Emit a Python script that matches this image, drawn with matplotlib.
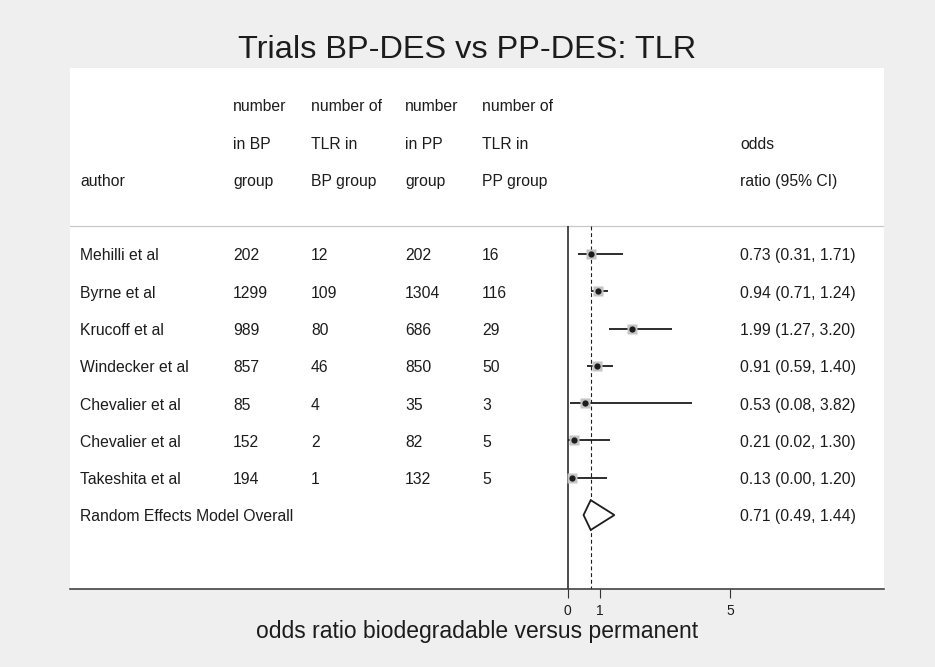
import numpy as np
import matplotlib.pyplot as plt
import matplotlib.transforms as mtransforms

plt.rcParams['font.family'] = ['Liberation Sans', 'DejaVu Sans']

# Study data
authors = ["Mehilli et al", "Byrne et al", "Krucoff et al", "Windecker et al",
           "Chevalier et al", "Chevalier et al", "Takeshita et al"]
n_bp = [202, 1299, 989, 857, 85, 152, 194]
tlr_bp = [12, 109, 80, 46, 4, 2, 1]
n_pp = [202, 1304, 686, 850, 35, 82, 132]
tlr_pp = [16, 116, 29, 50, 3, 5, 5]
or_est = [0.73, 0.94, 1.99, 0.91, 0.53, 0.21, 0.13]
ci_lo = [0.31, 0.71, 1.27, 0.59, 0.08, 0.02, 0.00]
ci_hi = [1.71, 1.24, 3.20, 1.40, 3.82, 1.30, 1.20]

# Pooled estimate
pooled_label = "Random Effects Model Overall"
pooled_or = 0.71
pooled_lo = 0.49
pooled_hi = 1.44

xticks = [0, 1, 5]

bg = '#efefef'
ink = '#1c1c1c'
fs = 11.3

fig = plt.figure(figsize=(9.35, 6.67), dpi=100, facecolor=bg)
ax = fig.add_axes([70 / 935, (667 - 588.5) / 667, 814 / 935, 520.5 / 667])
ax.set_facecolor('white')

ax.set_xlim(-15.33, 9.745)
ax.set_ylim(8.97, -4.99)

rows = np.arange(len(authors))
n_rows = len(authors)

# reference lines
sep = -0.74
ax.axhline(sep, color='#c8c8c8', lw=0.9)
ax.vlines(0, sep, 8.97, color=ink, lw=1.1)
ax.vlines(pooled_or, sep, 8.97, color=ink, lw=0.8, linestyles=(0, (3.5, 2.5)))

# CIs and point estimates
ax.hlines(rows, ci_lo, ci_hi, color=ink, lw=1.3, zorder=3)
ax.plot(or_est, rows, 's', ms=7, color='#c4c4c4', mec='none', zorder=4)
ax.plot(or_est, rows, 'o', ms=4.5, color=ink, mec='none', zorder=5)

# pooled diamond
h = 0.4
yp = n_rows
ax.fill([pooled_lo, pooled_or, pooled_hi, pooled_or, pooled_lo],
        [yp, yp - h, yp, yp + h, yp], facecolor='white', edgecolor=ink, lw=1.3, zorder=4)

# table text
tr = mtransforms.blended_transform_factory(ax.transAxes, ax.transData)
off = 0.17
col_author = 10 / 814
col_nbp = 163 / 814
col_tbp = 241 / 814
col_npp = 335 / 814
col_tpp = 412 / 814
col_or = 670 / 814

headers = [
    (col_nbp, ["number", "in BP", "group"]),
    (col_tbp, ["number of", "TLR in", "BP group"]),
    (col_npp, ["number", "in PP", "group"]),
    (col_tpp, ["number of", "TLR in", "PP group"]),
]
for xc, lines in headers:
    for k, s in enumerate(lines):
        ax.text(xc, -4 + k + off, s, transform=tr, fontsize=fs, va='baseline', ha='left', color=ink)
ax.text(col_author, -2 + off, "author", transform=tr, fontsize=fs, va='baseline', color=ink)
ax.text(col_or, -3 + off, "odds", transform=tr, fontsize=fs, va='baseline', color=ink)
ax.text(col_or, -2 + off, "ratio (95% CI)", transform=tr, fontsize=fs, va='baseline', color=ink)

for i in range(n_rows):
    y = i + off
    ax.text(col_author, y, authors[i], transform=tr, fontsize=fs, va='baseline', color=ink)
    ax.text(col_nbp, y, str(n_bp[i]), transform=tr, fontsize=fs, va='baseline', color=ink)
    ax.text(col_tbp, y, str(tlr_bp[i]), transform=tr, fontsize=fs, va='baseline', color=ink)
    ax.text(col_npp, y, str(n_pp[i]), transform=tr, fontsize=fs, va='baseline', color=ink)
    ax.text(col_tpp, y, str(tlr_pp[i]), transform=tr, fontsize=fs, va='baseline', color=ink)
    ax.text(col_or, y, f"{or_est[i]:.2f} ({ci_lo[i]:.2f}, {ci_hi[i]:.2f})",
            transform=tr, fontsize=fs, va='baseline', color=ink)

ax.text(col_author, n_rows + off, pooled_label, transform=tr, fontsize=fs, va='baseline', color=ink)
ax.text(col_or, n_rows + off, f"{pooled_or:.2f} ({pooled_lo:.2f}, {pooled_hi:.2f})",
        transform=tr, fontsize=fs, va='baseline', color=ink)

# axes styling
for side in ['top', 'left', 'right']:
    ax.spines[side].set_visible(False)
ax.spines['bottom'].set_color('#333333')
ax.spines['bottom'].set_linewidth(1.1)
ax.set_yticks([])
ax.set_xticks(xticks)
ax.set_xticklabels([str(t) for t in xticks])
ax.tick_params(axis='x', length=6.5, width=0.8, color='#333333', labelsize=10, pad=5, labelcolor=ink)
ax.set_xlabel("odds ratio biodegradable versus permanent", fontsize=16.5, color=ink, labelpad=1)

fig.text(0.5, 1 - 58.3 / 667, "Trials BP-DES vs PP-DES: TLR", ha='center', va='baseline',
         fontsize=23.4, color=ink)

plt.savefig('out.png', dpi=100, facecolor=bg)
